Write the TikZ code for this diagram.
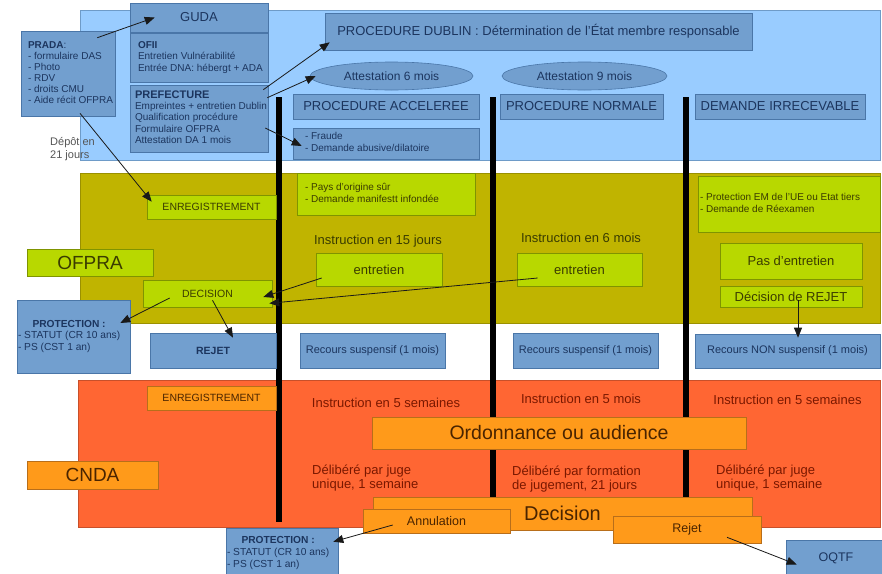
\documentclass[tikz,border=0pt]{standalone}
\usepackage{fontspec}
\setmainfont{Liberation Sans}
\usetikzlibrary{arrows.meta,shapes.geometric}
\definecolor{bandblue}{HTML}{99CCFF}
\definecolor{bandbluedraw}{HTML}{6E9BC8}
\definecolor{boxblue}{HTML}{729FCF}
\definecolor{bluedraw}{HTML}{4A76A8}
\definecolor{txtblue}{HTML}{1C355E}
\definecolor{bandolive}{HTML}{C0B400}
\definecolor{olivedraw}{HTML}{9A9000}
\definecolor{boxgreen}{HTML}{B8D800}
\definecolor{greendraw}{HTML}{7F9400}
\definecolor{txtgreen}{HTML}{3A3C00}
\definecolor{bandred}{HTML}{FF6633}
\definecolor{reddraw}{HTML}{C8502A}
\definecolor{boxorange}{HTML}{FF9A1A}
\definecolor{orangedraw}{HTML}{B86E1A}
\definecolor{txtorange}{HTML}{4A2400}
\definecolor{txtred}{HTML}{7A1800}
\definecolor{txtgray}{HTML}{555555}
\newcommand\fs[2]{\fontsize{#1}{#2}\selectfont}
\newcommand\mybox[7]{%
\pgfmathsetmacro\bxw{#5-#3}\pgfmathsetmacro\bxh{#6-#4}%
\pgfmathsetmacro\bxcx{(#3+#5)/2}\pgfmathsetmacro\bxcy{(#4+#6)/2}%
\node[#2, minimum width=\bxw pt, minimum height=\bxh pt] (#1) at (\bxcx,\bxcy) {#7};}
\newcommand\myboxl[8]{%
\pgfmathsetmacro\bxw{#5-#3}\pgfmathsetmacro\bxh{#6-#4}%
\pgfmathsetmacro\bxt{#5-#3-2*#7}%
\pgfmathsetmacro\bxcx{(#3+#5)/2}\pgfmathsetmacro\bxcy{(#4+#6)/2}%
\node[#2, minimum width=\bxw pt, minimum height=\bxh pt] (#1) at (\bxcx,\bxcy) {\makebox[\bxt pt][l]{\begin{tabular}{@{}l@{}}#8\end{tabular}}};}
\tikzset{
 bluebox/.style={draw=bluedraw, fill=boxblue, text=txtblue, inner sep=0pt, line width=0.6pt},
 greenbox/.style={draw=greendraw, fill=boxgreen, text=txtgreen, inner sep=0pt, line width=0.6pt},
 orangebox/.style={draw=orangedraw, fill=boxorange, text=txtorange, inner sep=0pt, line width=0.6pt},
 arr/.style={draw=black!90, line width=0.8pt, -{Triangle[length=10pt,width=8pt]}},
 vline/.style={line width=6pt, black},
 lbl/.style={inner sep=0pt},
}
\begin{document}
\begin{tikzpicture}[x=1pt,y=-1pt]
\useasboundingbox (0,0) rectangle (882,573);
\fill[white] (0,0) rectangle (882,573);
\clip (0,0) rectangle (882,573);
% bands
\filldraw[fill=bandblue, draw=bandbluedraw, line width=0.6pt] (80,10) rectangle (880,160);
\filldraw[fill=bandolive, draw=olivedraw, line width=0.6pt] (80,173) rectangle (880,323);
\filldraw[fill=bandred, draw=reddraw, line width=0.6pt] (78,380) rectangle (880,527);
% vertical lines
\draw[vline] (278.5,97) -- (278.5,522);
\draw[vline] (493,97) -- (493,497);
\draw[vline] (686,97) -- (686,497);
% top section
\mybox{guda}{bluebox,font=\fs{13}{15}}{130}{3}{268}{32}{GUDA}
\myboxl{ofii}{bluebox,font=\fs{10}{11.5}}{130}{33}{268}{82}{8}{\textbf{OFII}\\Entretien Vulnérabilité\\Entrée DNA: hébergt + ADA}
\myboxl{pref}{bluebox,font=\fs{10}{11.3}}{130}{85}{268}{152}{5}{\fs{11}{12}\textbf{PREFECTURE}\\Empreintes + entretien Dublin\\Qualification procédure\\Formulaire OFPRA\\Attestation DA 1 mois}
\myboxl{prada}{bluebox,font=\fs{10}{11}}{21}{31}{115}{116}{7}{\textbf{PRADA}:\\- formulaire DAS\\- Photo\\- RDV\\- droits CMU\\- Aide récit OFPRA}
\node[lbl, text=txtgray, font=\fs{11}{12.5}, anchor=west, align=left] (depot) at (50,149) {Dépôt en\\21 jours};
\mybox{dublin}{bluebox,font=\fs{13}{15}}{325}{13}{752}{50}{PROCEDURE DUBLIN : Détermination de l'État membre responsable}
\node[ellipse, draw=bluedraw, fill=boxblue, text=txtblue, line width=0.6pt, minimum width=163pt, minimum height=28pt, inner sep=0pt, font=\fs{12}{14}] (att6) at (391.5,76) {Attestation 6 mois};
\node[ellipse, draw=bluedraw, fill=boxblue, text=txtblue, line width=0.6pt, minimum width=165pt, minimum height=28pt, inner sep=0pt, font=\fs{12}{14}] (att9) at (584.5,76) {Attestation 9 mois};
\mybox{pacc}{bluebox,font=\fs{13}{15}}{293}{94}{479}{119}{PROCEDURE ACCELEREE}
\mybox{pnorm}{bluebox,font=\fs{13}{15}}{500}{94}{663}{119}{PROCEDURE NORMALE}
\mybox{pirr}{bluebox,font=\fs{13}{15}}{695}{94}{865}{119}{DEMANDE IRRECEVABLE}
\myboxl{fraude}{bluebox,font=\fs{10}{12}}{293}{128}{479}{159}{12}{- Fraude\\- Demande abusive/dilatoire}
% OFPRA section
\mybox{enreg1}{greenbox,font=\fs{10.5}{12}}{147}{195}{276}{219}{ENREGISTREMENT}
\myboxl{pays}{greenbox,font=\fs{10}{12}}{297}{173}{475}{215}{8}{- Pays d'origine sûr\\- Demande manifestt infondée}
\myboxl{protem}{greenbox,font=\fs{10}{12}}{698}{176}{880}{232}{2}{- Protection EM de l'UE ou Etat tiers\\- Demande de Réexamen}
\mybox{ofpra}{greenbox,font=\fs{19}{21}}{27}{249}{153}{276}{OFPRA}
\node[lbl, text=txtgreen, font=\fs{13}{15}] (instr15) at (378,241) {Instruction en 15 jours};
\mybox{ent1}{greenbox,font=\fs{13}{15}}{316}{253}{442}{286}{entretien}
\node[lbl, text=txtgreen, font=\fs{13}{15}] (instr6) at (581,238) {Instruction en 6 mois};
\mybox{ent2}{greenbox,font=\fs{13}{15}}{517}{253}{642}{286}{entretien}
\mybox{pasent}{greenbox,font=\fs{13}{15}}{720}{243}{862}{279}{Pas d'entretien}
\mybox{decrej}{greenbox,font=\fs{13}{15}}{720}{286}{862}{307}{Décision de REJET}
\mybox{decis}{greenbox,font=\fs{10.5}{12}}{143}{280}{272}{307}{DECISION}
% middle row
\myboxl{prot1}{bluebox,font=\fs{10.2}{11.7}}{17}{300}{130}{373}{1}{\multicolumn{1}{@{}c@{}}{\textbf{PROTECTION :}}\\- STATUT (CR 10 ans)\\- PS (CST 1 an)}
\mybox{rejet1}{bluebox,font=\bfseries\fs{10.5}{12}}{150}{333}{276}{368}{REJET}
\mybox{rec1}{bluebox,font=\fs{11}{13}}{300}{333}{445}{368}{Recours suspensif (1 mois)}
\mybox{rec2}{bluebox,font=\fs{11}{13}}{513}{333}{658}{368}{Recours suspensif (1 mois)}
\mybox{recnon}{bluebox,font=\fs{11}{13}}{695}{334}{880}{368}{Recours NON suspensif (1 mois)}
% CNDA section
\mybox{enreg2}{orangebox,font=\fs{10.5}{12}}{147}{386}{276}{410}{ENREGISTREMENT}
\mybox{cnda}{orangebox,font=\fs{19}{21}}{27}{461}{158}{489}{CNDA}
\node[lbl, text=txtred, font=\fs{13}{15}] (instr5s) at (386,403) {Instruction en 5 semaines};
\node[lbl, text=txtred, font=\fs{13}{15}] (instr5m) at (581,399) {Instruction en 5 mois};
\node[lbl, text=txtred, font=\fs{13}{15}] (instr5t) at (787.5,400) {Instruction en 5 semaines};
\mybox{ordo}{orangebox,font=\fs{19.5}{22}}{372}{417}{746}{449}{Ordonnance ou audience}
\node[lbl, text=txtred, font=\fs{13}{14.5}, anchor=west, align=left] (delib1) at (312,478) {Délibéré par juge\\unique, 1 semaine};
\node[lbl, text=txtred, font=\fs{13}{14.5}, anchor=west, align=left] (delib2) at (512,479) {Délibéré par formation\\de jugement, 21 jours};
\node[lbl, text=txtred, font=\fs{13}{14.5}, anchor=west, align=left] (delib3) at (716,478) {Délibéré par juge\\unique, 1 semaine};
\mybox{decision}{orangebox,font=\fs{20}{22}}{373}{497}{752}{530}{Decision}
\mybox{annul}{orangebox,font=\fs{12.5}{14}}{363}{509}{510}{533}{Annulation}
\mybox{rejet2}{orangebox,font=\fs{12.5}{14}}{613}{516}{761}{543}{Rejet}
\myboxl{prot2}{bluebox,font=\fs{10.2}{12}}{226}{528}{338}{578}{1}{\multicolumn{1}{@{}c@{}}{\textbf{PROTECTION :}}\\- STATUT (CR 10 ans)\\- PS (CST 1 an)}
\mybox{oqtf}{bluebox,font=\fs{12.5}{14}}{786}{540}{886}{576}{OQTF}
% arrows
\draw[arr] ([xshift=-18pt,yshift=-7pt]prada.north east) -- ([xshift=25pt]guda.west);
\draw[arr] ([xshift=-5pt,yshift=-5pt]pref.north east) -- ([xshift=5pt,yshift=8pt]dublin.south west);
\draw[arr] ([xshift=-1pt,yshift=-13pt]pref.north east) -- ([xshift=6pt]att6.west);
\draw[arr] ([xshift=-3pt,yshift=-9.5pt]pref.east) -- ([xshift=9pt,yshift=-2.5pt]fraude.west);
\draw[arr] ([xshift=12pt,yshift=3pt]prada.south) -- ([xshift=5pt,yshift=-7pt]enreg1.north west);
\draw[arr] ([xshift=6pt,yshift=-8.5pt]ent1.west) -- ([xshift=-9pt,yshift=-3.5pt]decis.east);
\draw[arr] ([xshift=21pt,yshift=-8.5pt]ent2.west) -- ([xshift=-3pt,yshift=4pt]decis.south east);
\draw[arr] ([xshift=27pt,yshift=-4.5pt]decis.west) -- ([xshift=-10pt,yshift=13.5pt]prot1.east);
\draw[arr] ([xshift=5pt,yshift=7pt]decis.south) -- ([xshift=20pt,yshift=-5pt]rejet1.north);
\draw[arr] ([xshift=7pt,yshift=-3.5pt]decrej.center) -- ([xshift=10.5pt,yshift=-4pt]recnon.north);
\draw[arr] ([xshift=30pt,yshift=-4pt]annul.west) -- ([xshift=-5pt,yshift=-14pt]prot2.north east);
\draw[arr] ([xshift=40pt,yshift=6pt]rejet2.south) -- ([xshift=11pt,yshift=-6.5pt]oqtf.west);
\end{tikzpicture}
\end{document}
